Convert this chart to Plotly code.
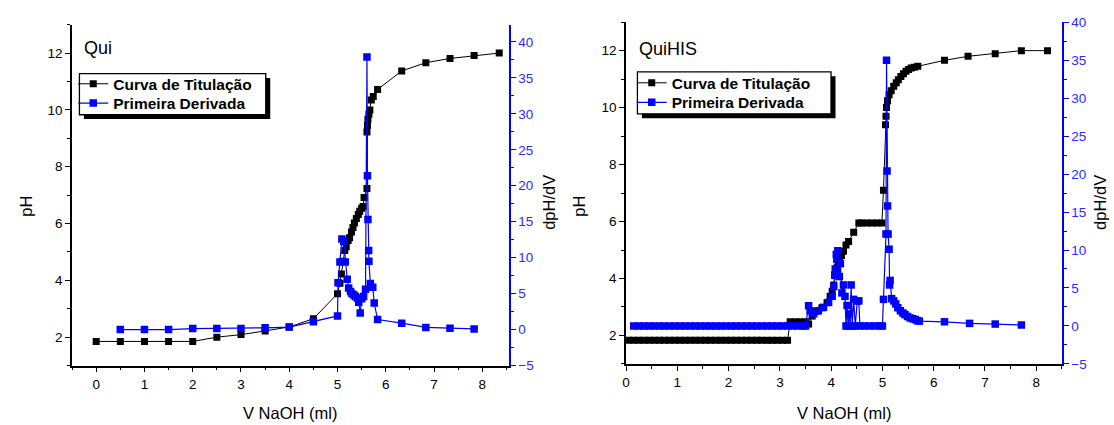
import plotly.graph_objects as go

FONT = "Liberation Sans, Arial, sans-serif"
BLUE = "#0000ff"

# ---- Qui: titration curve (pH) and first derivative (dpH/dV) ----
qui_v_ph = [0.0, 0.5, 1.0, 1.5, 2.0, 2.5, 3.0, 3.5, 4.0, 4.5,
            5.0, 5.05, 5.08, 5.11, 5.15, 5.18, 5.22, 5.25, 5.29, 5.32,
            5.35, 5.39, 5.43, 5.46, 5.50, 5.53, 5.55, 5.61, 5.61, 5.62,
            5.63, 5.65, 5.67, 5.70, 5.74, 5.83, 6.33, 6.83, 7.33, 7.83, 8.35]
qui_ph = [1.85, 1.85, 1.85, 1.85, 1.85, 2.0, 2.09, 2.22, 2.36, 2.65,
          3.53, 3.90, 4.22, 4.67, 5.05, 5.18, 5.40, 5.50, 5.70, 5.86,
          6.02, 6.18, 6.32, 6.43, 6.54, 6.60, 6.92, 7.23, 9.22, 9.45,
          9.67, 9.85, 10.0, 10.35, 10.47, 10.72, 11.37, 11.66, 11.81, 11.91, 12.0]

qui_v_der = [0.5, 1.0, 1.5, 2.0, 2.5, 3.0, 3.5, 4.0, 4.5, 5.0,
             5.01, 5.05, 5.09, 5.13, 5.16, 5.20, 5.23, 5.27, 5.30, 5.34,
             5.37, 5.41, 5.44, 5.47, 5.50, 5.54, 5.58, 5.61, 5.62, 5.63,
             5.645, 5.65, 5.68, 5.73, 5.76, 5.83, 6.33, 6.83, 7.33, 7.83]
qui_der = [0.0, 0.0, 0.0, 0.15, 0.15, 0.15, 0.25, 0.35, 1.1, 1.9,
           6.5, 9.4, 12.6, 12.3, 9.4, 7.0, 5.8, 5.3, 5.0, 4.8,
           4.6, 4.4, 3.8, 2.3, 4.3, 4.6, 5.6, 37.9, 21.4, 15.3,
           11.0, 9.5, 6.4, 5.9, 3.7, 1.4, 0.9, 0.3, 0.2, 0.1]

# ---- QuiHIS: titration curve (pH) and first derivative (dpH/dV) ----
his_v_ph = [0.05, 0.15, 0.25, 0.35, 0.45, 0.55, 0.65, 0.75, 0.85, 0.95,
            1.05, 1.15, 1.25, 1.35, 1.45, 1.55, 1.65, 1.75, 1.85, 1.95,
            2.05, 2.15, 2.25, 2.35, 2.45, 2.55, 2.65, 2.75, 2.85, 2.95,
            3.05, 3.15,
            3.2, 3.3, 3.4, 3.5, 3.56,
            3.63, 3.72, 3.82, 3.92, 3.98, 4.02, 4.05, 4.08, 4.12, 4.16,
            4.2, 4.24, 4.29, 4.34, 4.44,
            4.54, 4.6, 4.7, 4.8, 4.9, 4.99,
            5.02, 5.06, 5.07, 5.08, 5.1, 5.13, 5.17, 5.22, 5.27, 5.31,
            5.36, 5.41, 5.46, 5.51, 5.56, 5.62, 5.69,
            6.21, 6.67, 7.2, 7.71, 8.22]
his_ph = [1.83, 1.83, 1.83, 1.83, 1.83, 1.83, 1.83, 1.83, 1.83, 1.83,
          1.83, 1.83, 1.83, 1.83, 1.83, 1.83, 1.83, 1.83, 1.83, 1.83,
          1.83, 1.83, 1.83, 1.83, 1.83, 1.83, 1.83, 1.83, 1.83, 1.83,
          1.83, 1.83,
          2.48, 2.48, 2.48, 2.48, 2.4,
          2.68, 2.85, 2.97, 3.15, 3.37, 3.55, 3.77, 4.1, 4.4, 4.62,
          4.8, 4.96, 5.18, 5.3, 5.62,
          5.95, 5.95, 5.95, 5.95, 5.95, 5.95,
          7.1, 9.4, 9.7, 10.0, 10.24, 10.45, 10.59, 10.75, 10.87, 10.98,
          11.09, 11.19, 11.28, 11.34, 11.39, 11.42, 11.45,
          11.66, 11.8, 11.89, 12.0, 12.0]

his_v_der = [0.15, 0.25, 0.35, 0.45, 0.55, 0.65, 0.75, 0.85, 0.95, 1.05,
             1.15, 1.25, 1.35, 1.45, 1.55, 1.65, 1.75, 1.85, 1.95, 2.05,
             2.15, 2.25, 2.35, 2.45, 2.55, 2.65, 2.75, 2.85, 2.95, 3.05,
             3.15, 3.25, 3.35, 3.45, 3.5,
             3.56, 3.59, 3.66, 3.75, 3.85, 3.95, 4.02, 4.05, 4.07, 4.08,
             4.1, 4.11, 4.13, 4.16, 4.18, 4.21, 4.24, 4.27, 4.29, 4.31,
             4.33, 4.35, 4.37, 4.39, 4.41, 4.44, 4.47, 4.51, 4.54, 4.56,
             4.65, 4.75, 4.85, 4.95, 5.0,
             5.02, 5.07, 5.08, 5.09, 5.1, 5.11, 5.13, 5.14, 5.15, 5.18,
             5.22, 5.26, 5.3, 5.35, 5.4, 5.44, 5.49, 5.54, 5.59, 5.64,
             5.68, 5.72, 6.21, 6.7, 7.2, 7.71]
his_der = [0.0, 0.0, 0.0, 0.0, 0.0, 0.0, 0.0, 0.0, 0.0, 0.0,
           0.0, 0.0, 0.0, 0.0, 0.0, 0.0, 0.0, 0.0, 0.0, 0.0,
           0.0, 0.0, 0.0, 0.0, 0.0, 0.0, 0.0, 0.0, 0.0, 0.0,
           0.0, 0.0, 0.0, 0.0, 0.0,
           2.66, 2.0, 1.6, 2.0, 2.45, 3.1, 3.9, 5.2, 6.7, 7.5,
           9.4, 8.8, 9.9, 6.5, 8.2, 4.35, 5.4, 3.9, 0.0, 2.7,
           0.0, 1.6, 0.0, 5.4, 0.0, 3.5, 0.0, 3.3, 3.3, 0.0,
           0.0, 0.0, 0.0, 0.0, 0.0,
           3.5, 12.1, 35.0, 20.4, 15.8, 12.1, 10.1, 5.4, 6.0, 3.6,
           3.3, 2.9, 2.4, 2.0, 1.7, 1.5, 1.25, 1.05, 0.95, 0.85,
           0.7, 0.63, 0.55, 0.34, 0.25, 0.13]

LBL_PH = "Curva de Titulação"
LBL_DER = "Primeira Derivada"

W, H = 1114, 425


def px_x(p):
    return p / W


def px_y(p):
    return 1 - p / H


fig = go.Figure()

# one single-entry legend per series so the rows can be spaced tightly
fig.add_trace(go.Scatter(x=qui_v_ph, y=qui_ph, name=LBL_PH, mode="lines+markers",
                         line=dict(color="black", width=1),
                         marker=dict(symbol="square", size=7, color="black"),
                         xaxis="x", yaxis="y", legend="legend"))
fig.add_trace(go.Scatter(x=qui_v_der, y=qui_der, name=LBL_DER, mode="lines+markers",
                         line=dict(color=BLUE, width=1.2),
                         marker=dict(symbol="square", size=7.5, color=BLUE),
                         xaxis="x", yaxis="y2", legend="legend2"))
fig.add_trace(go.Scatter(x=his_v_ph, y=his_ph, name=LBL_PH, mode="lines+markers",
                         line=dict(color="black", width=1),
                         marker=dict(symbol="square", size=7, color="black"),
                         xaxis="x2", yaxis="y3", legend="legend3"))
fig.add_trace(go.Scatter(x=his_v_der, y=his_der, name=LBL_DER, mode="lines+markers",
                         line=dict(color=BLUE, width=1.2),
                         marker=dict(symbol="square", size=7.5, color=BLUE),
                         xaxis="x2", yaxis="y4", legend="legend4"))

tickfont = dict(family=FONT, size=13.5, color="black")
bluefont = dict(family=FONT, size=13.5, color="#2a2aff")


def x_bottom(domain, rng, anchor):
    return dict(domain=domain, range=rng, anchor=anchor, showgrid=False, zeroline=False,
                showline=True, linecolor="black", linewidth=1.5,
                ticks="outside", ticklen=5, tickwidth=1.2, tickcolor="black",
                tick0=0, dtick=1, tickfont=tickfont,
                minor=dict(ticks="outside", ticklen=3, dtick=0.5, tick0=0,
                           tickcolor="black", tickwidth=1.2, showgrid=False))


def x_top(base, anchor, rng):
    return dict(overlaying=base, anchor=anchor, side="top", range=rng,
                showgrid=False, zeroline=False, showline=True,
                linecolor="black", linewidth=1.5, showticklabels=False,
                ticks="inside", ticklen=5, tickwidth=1.2, tickcolor="black",
                tick0=0, dtick=1,
                minor=dict(ticks="inside", ticklen=3, dtick=0.5, tick0=0,
                           tickcolor="black", tickwidth=1.2, showgrid=False))


def y_ph(domain, anchor):
    return dict(domain=domain, anchor=anchor, range=[1, 13], showgrid=False,
                zeroline=False, showline=True, linecolor="black", linewidth=1.5,
                ticks="outside", ticklen=5, tickwidth=1.2, tickcolor="black",
                tick0=0, dtick=2, tickfont=tickfont,
                minor=dict(ticks="outside", ticklen=3, dtick=1, tick0=0,
                           tickcolor="black", tickwidth=1.2, showgrid=False))


def y_der(base, anchor, rng):
    return dict(overlaying=base, anchor=anchor, side="right", range=rng,
                showgrid=False, zeroline=False, showline=True,
                linecolor=BLUE, linewidth=1.5,
                ticks="outside", ticklen=5, tickwidth=1.2, tickcolor=BLUE,
                tick0=0, dtick=5, tickfont=bluefont,
                minor=dict(ticks="outside", ticklen=3, dtick=2.5, tick0=0,
                           tickcolor=BLUE, tickwidth=1.2, showgrid=False))


dom_x1 = [px_x(68.3), px_x(506.7)]
dom_y1 = [px_y(371.7), px_y(18.3)]
dom_x2 = [px_x(624.3), px_x(1061.7)]
dom_y2 = [px_y(370.0), px_y(15.7)]

legend_style = dict(xref="paper", yref="paper", xanchor="left", yanchor="middle",
                    bgcolor="rgba(0,0,0,0)", borderwidth=0,
                    font=dict(family=FONT, size=15.5, color="black", weight="bold"),
                    itemwidth=30)

fig.update_layout(
    width=W, height=H,
    margin=dict(l=0, r=0, t=0, b=0),
    paper_bgcolor="white", plot_bgcolor="white",
    showlegend=True,
    xaxis=x_bottom(dom_x1, [-0.5, 8.55], "y"),
    xaxis3=x_top("x", "y", [-0.5, 8.55]),
    yaxis=y_ph(dom_y1, "x"),
    yaxis2=y_der("y", "x", [-5, 42.4]),
    xaxis2=x_bottom(dom_x2, [0, 8.5], "y3"),
    xaxis4=x_top("x2", "y3", [0, 8.5]),
    yaxis3=y_ph(dom_y2, "x2"),
    yaxis4=y_der("y3", "x2", [-5, 40]),
    legend=legend_style | dict(x=px_x(69.5), y=px_y(80.0)),
    legend2=legend_style | dict(x=px_x(69.5), y=px_y(100.0)),
    legend3=legend_style | dict(x=px_x(630.0), y=px_y(79.0)),
    legend4=legend_style | dict(x=px_x(630.0), y=px_y(99.3)),
)

# legend frames with their drop shadows
for (lx, ly, lw, lh) in [(75.7, 69.0, 187.0, 42.7), (635.7, 67.3, 194.3, 43.4)]:
    fig.add_shape(type="rect", xref="paper", yref="paper", layer="above",
                  x0=px_x(lx + 4.5), x1=px_x(lx + lw + 4.5),
                  y0=px_y(ly + lh + 4.5), y1=px_y(ly + 4.5),
                  fillcolor="black", line=dict(width=0))
    fig.add_shape(type="rect", xref="paper", yref="paper", layer="above",
                  x0=px_x(lx), x1=px_x(lx + lw),
                  y0=px_y(ly + lh), y1=px_y(ly),
                  fillcolor="white", line=dict(color="black", width=1.3))

notes = [
    ("Qui", 78.0, 43.0, 0, "left", 18),
    ("QuiHIS", 635.5, 44.0, 0, "left", 18),
    ("V NaOH (ml)", 287.5, 421.0, 0, "center", 16.5),
    ("V NaOH (ml)", 843.0, 421.0, 0, "center", 16.5),
    ("pH", 22.0, 206.0, -90, "center", 16.5),
    ("pH", 577.0, 206.0, -90, "center", 16.5),
    ("dpH/dV", 547.0, 203.0, -90, "center", 16.5),
    ("dpH/dV", 1100.0, 203.0, -90, "center", 16.5),
]
for text, ax, ay, rot, anc, size in notes:
    fig.add_annotation(text=text, x=px_x(ax), y=px_y(ay), xref="paper", yref="paper",
                       xanchor=anc, yanchor="middle", textangle=rot, showarrow=False,
                       font=dict(family=FONT, size=size, color="black"))

fig.write_html("out.html")
